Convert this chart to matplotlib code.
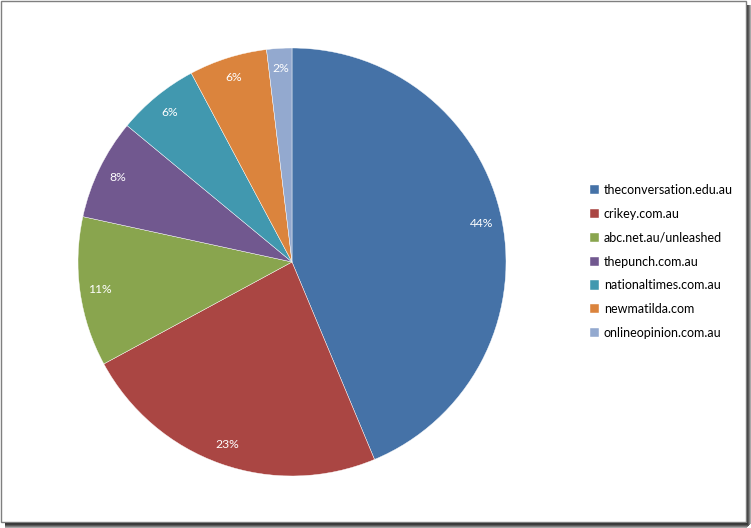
import matplotlib
matplotlib.use("Agg")
import matplotlib.pyplot as plt
from matplotlib.patches import Rectangle

sites = ["theconversation.edu.au", "crikey.com.au", "abc.net.au/unleashed",
         "thepunch.com.au", "nationaltimes.com.au", "newmatilda.com",
         "onlineopinion.com.au"]
shares = [43.7, 23.4, 11.3, 7.6, 6.2, 5.9, 1.9]
colors = ["#4572A7", "#AA4643", "#89A54E", "#71588F", "#4198AF", "#DB843D", "#93A9CF"]

plt.rcParams['font.family'] = ['Lato', 'DejaVu Sans']

W, H = 751, 528
fig = plt.figure(figsize=(W / 100, H / 100), dpi=100)
fig.patch.set_facecolor("white")

# frame and shadow
def px_rect(x0, y0, x1, y1, **kw):
    fig.patches.append(Rectangle((x0 / W, 1 - y1 / H), (x1 - x0) / W, (y1 - y0) / H,
                                 transform=fig.transFigure, **kw))

shades = ["#2a2a2a", "#3c3c3c", "#5a5a5a", "#808080", "#a8a8a8", "#d0d0d0"]
for i, c in enumerate(shades):
    px_rect(746 + i, 5, 747 + i, 528 - i + 0, facecolor=c, edgecolor="none", zorder=0)
    px_rect(5, 523 + i, 751 - i, 524 + i, facecolor=c, edgecolor="none", zorder=0)
px_rect(1, 1, 745.5, 522, facecolor="white", edgecolor="#7f7f7f", linewidth=1.0, zorder=1)

cx, cy, r = 292, 262, 214
ax = fig.add_axes([(cx - r) / W, (H - cy - r) / H, 2 * r / W, 2 * r / H])
ax.set_zorder(2)
wedges, texts, autotexts = ax.pie(
    shares, colors=colors, startangle=90, counterclock=False,
    autopct=lambda p: f"{p:.0f}%", pctdistance=0.905,
    wedgeprops=dict(linewidth=0.3, edgecolor="white"),
    textprops=dict(color="white", fontsize=8.7))
ax.set_xlim(-1, 1)
ax.set_ylim(-1, 1)
ax.set_aspect("equal")
ax.axis("off")

leg = fig.legend(wedges, sites, loc="center left",
                 bbox_to_anchor=(590 / W, 1 - 261.5 / H),
                 frameon=False, fontsize=9, handlelength=0.75, handleheight=0.75,
                 handletextpad=0.35, labelspacing=0.95, borderpad=0, borderaxespad=0)
for t in leg.get_texts():
    t.set_color("#000000")

fig.savefig("out.png", dpi=100)
